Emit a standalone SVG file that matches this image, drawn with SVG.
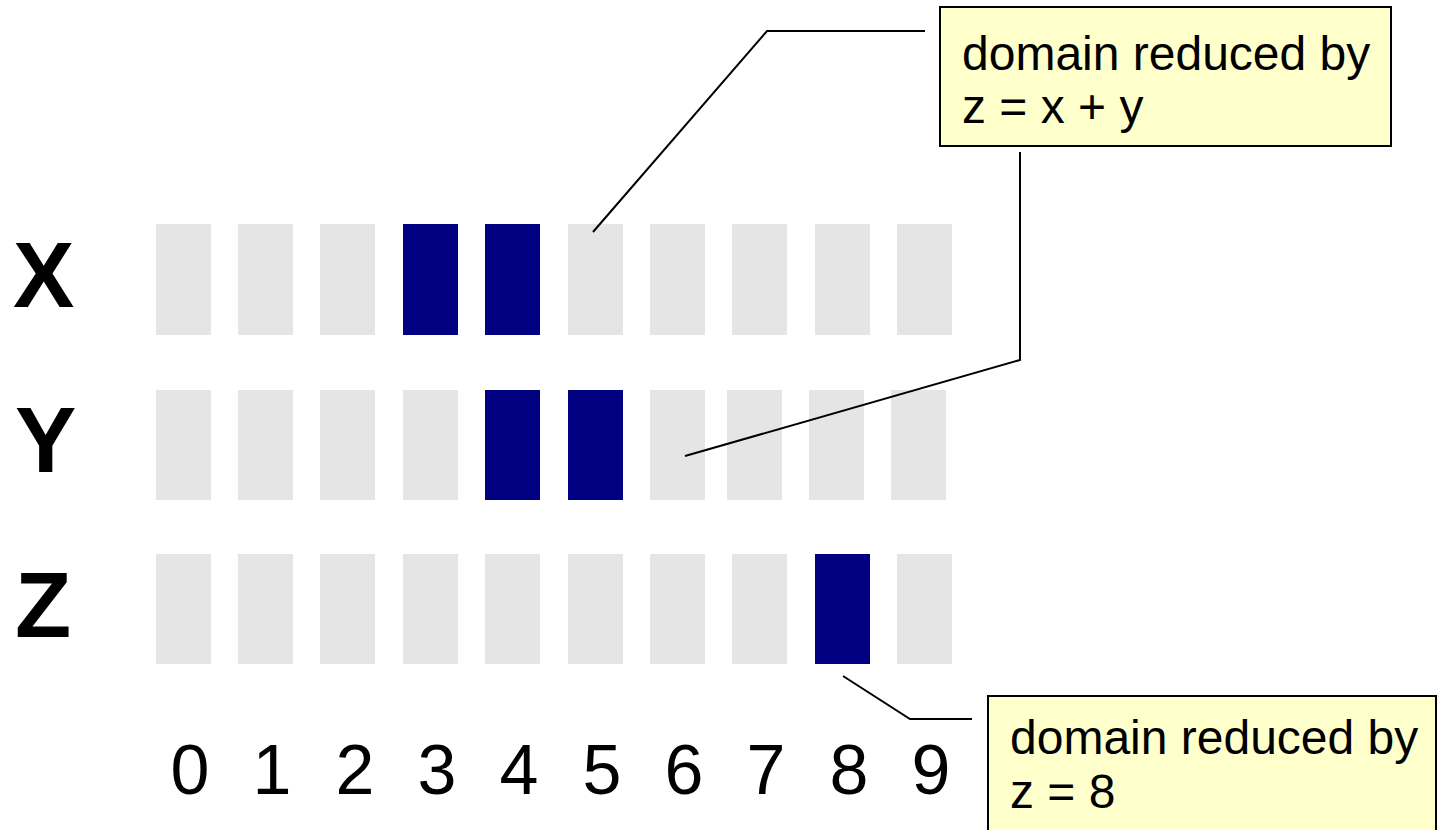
<svg xmlns="http://www.w3.org/2000/svg" width="1441" height="830" viewBox="0 0 1441 830">
  <style>
    .cell { fill: #e5e5e5; }
    .on { fill: #000080; }
    .var { font-family: "Liberation Sans", Arial, sans-serif; font-weight: bold; font-size: 92px; fill: #000; }
    .num { font-family: "Liberation Sans", Arial, sans-serif; font-size: 70px; fill: #000; text-anchor: middle; }
    .note { fill: #ffffcc; stroke: #000; stroke-width: 2; }
    .note-text { font-family: "Liberation Sans", Arial, sans-serif; font-size: 48px; fill: #000; }
    .lead { fill: none; stroke: #000; stroke-width: 2; }
  </style>
  <rect width="1441" height="830" fill="#fff"/>

  <!-- variable X, domain cells 0..9 -->
  <g id="row-x">
    <text class="var" x="13" y="307">X</text>
    <rect class="cell" x="156" y="224" width="55" height="111"/>
    <rect class="cell" x="238" y="224" width="55" height="111"/>
    <rect class="cell" x="320" y="224" width="55" height="111"/>
    <rect class="on" x="403" y="224" width="55" height="111"/>
    <rect class="on" x="485" y="224" width="55" height="111"/>
    <rect class="cell" x="568" y="224" width="55" height="111"/>
    <rect class="cell" x="650" y="224" width="55" height="111"/>
    <rect class="cell" x="732" y="224" width="55" height="111"/>
    <rect class="cell" x="815" y="224" width="55" height="111"/>
    <rect class="cell" x="897" y="224" width="55" height="111"/>
  </g>

  <!-- variable Y -->
  <g id="row-y">
    <text class="var" x="15" y="472">Y</text>
    <rect class="cell" x="156" y="390" width="55" height="110"/>
    <rect class="cell" x="238" y="390" width="55" height="110"/>
    <rect class="cell" x="320" y="390" width="55" height="110"/>
    <rect class="cell" x="403" y="390" width="55" height="110"/>
    <rect class="on" x="485" y="390" width="55" height="110"/>
    <rect class="on" x="568" y="390" width="55" height="110"/>
    <rect class="cell" x="650" y="390" width="55" height="110"/>
    <rect class="cell" x="727" y="390" width="55" height="110"/>
    <rect class="cell" x="809" y="390" width="55" height="110"/>
    <rect class="cell" x="891" y="390" width="55" height="110"/>
  </g>

  <!-- variable Z -->
  <g id="row-z">
    <text class="var" x="15" y="637">Z</text>
    <rect class="cell" x="156" y="554" width="55" height="110"/>
    <rect class="cell" x="238" y="554" width="55" height="110"/>
    <rect class="cell" x="320" y="554" width="55" height="110"/>
    <rect class="cell" x="403" y="554" width="55" height="110"/>
    <rect class="cell" x="485" y="554" width="55" height="110"/>
    <rect class="cell" x="568" y="554" width="55" height="110"/>
    <rect class="cell" x="650" y="554" width="55" height="110"/>
    <rect class="cell" x="732" y="554" width="55" height="110"/>
    <rect class="on" x="815" y="554" width="55" height="110"/>
    <rect class="cell" x="897" y="554" width="55" height="110"/>
  </g>

  <!-- value axis -->
  <g id="axis">
    <text class="num" x="190" y="794">0</text>
    <text class="num" x="272" y="794">1</text>
    <text class="num" x="355" y="794">2</text>
    <text class="num" x="437" y="794">3</text>
    <text class="num" x="519" y="794">4</text>
    <text class="num" x="602" y="794">5</text>
    <text class="num" x="684" y="794">6</text>
    <text class="num" x="766" y="794">7</text>
    <text class="num" x="849" y="794">8</text>
    <text class="num" x="931" y="794">9</text>
  </g>

  <!-- leader lines -->
  <g id="connectors">
    <polyline class="lead" points="925,31 767,31 593,232"/>
    <polyline class="lead" points="1020,152 1020,360 685,456"/>
    <polyline class="lead" points="843,676 910,719 972,719"/>
  </g>

  <g id="note-sum">
    <rect class="note" x="940" y="7" width="451" height="139"/>
    <text class="note-text" x="962" y="70">domain reduced by</text>
    <text class="note-text" x="962" y="123">z = x + y</text>
  </g>

  <g id="note-z">
    <rect class="note" x="988" y="696" width="448" height="150"/>
    <text class="note-text" x="1010" y="754">domain reduced by</text>
    <text class="note-text" x="1010" y="808">z = 8</text>
  </g>
</svg>
